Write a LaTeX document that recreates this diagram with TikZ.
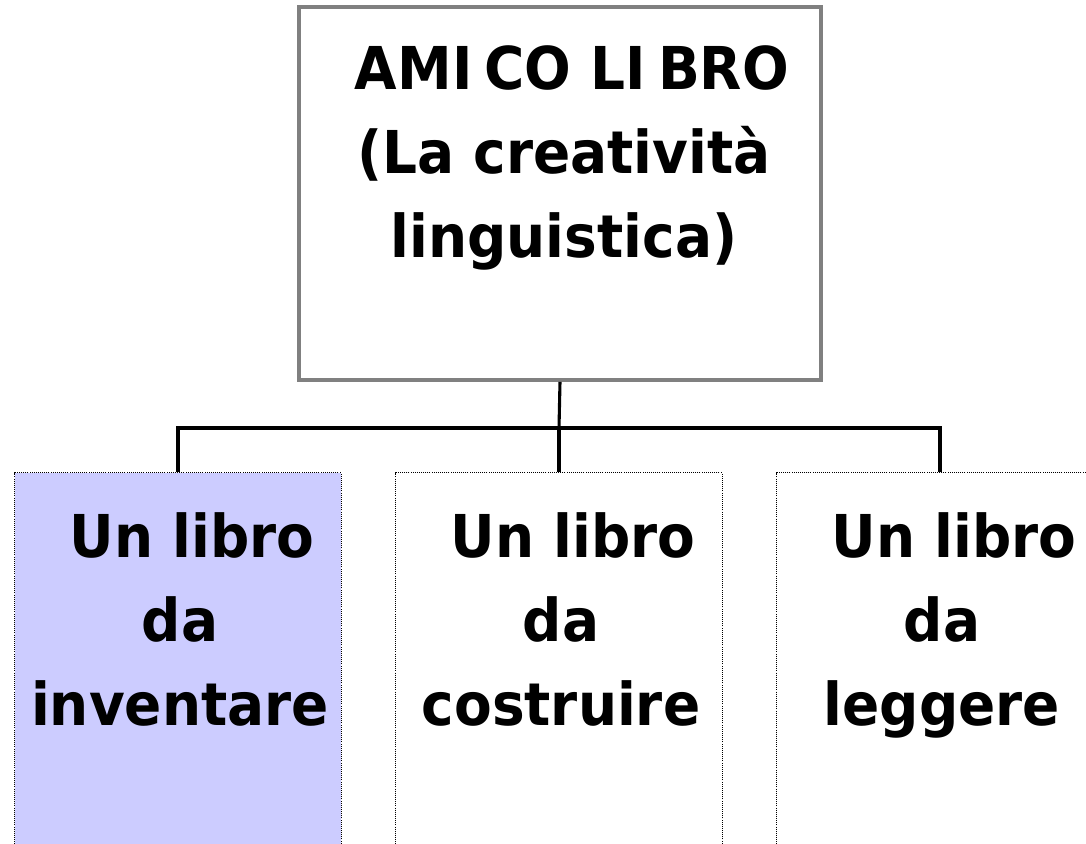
\documentclass[tikz,border=0pt]{standalone}
\usepackage{fontspec}
\setmainfont{DejaVu Sans}[FakeStretch=0.93]
\usetikzlibrary{positioning}
\definecolor{boxlilac}{HTML}{CCCCFF}
\definecolor{boxgray}{HTML}{808080}

\begin{document}
\begin{tikzpicture}[
    x=0.025cm, y=-0.025cm,
    titlebox/.style={rectangle, draw=boxgray, fill=white, line width=2.5pt,
                     minimum width=13.05cm, minimum height=9.325cm, inner sep=0pt},
    branchbox/.style={rectangle, draw=black, line width=0.7pt,
                      dash pattern=on 0.7pt off 0.8pt,
                      minimum width=8.15cm, minimum height=10.5cm, inner sep=0pt},
    bigtext/.style={align=center, inner sep=0pt, anchor=north,
                    font=\fontsize{42}{60}\selectfont\bfseries},
    link/.style={draw=black, line width=2.2pt}
  ]

  % ---- Frame ----
  \clip (0,0) rectangle (1086,843);
  \fill[white] (0,0) rectangle (1086,843);

  % ---- Title ----
  \node[titlebox] (title) at (560,193.5) {};
  \node[bigtext] (titletxt) at (564,45)
    {\hspace*{0.4cm}AMI\kern0.3cm CO LI\kern0.3cm BRO\\(La creatività\\linguistica)};

  % ---- Three branches ----
  \node[branchbox, fill=boxlilac] (invent) at (178,683) {};
  \node[branchbox] (build) at (559,683) {};
  \node[branchbox] (read) at (940,683) {};

  \node[bigtext] (inventtxt) at (180,512) {\hspace*{0.6cm}Un libro\\da\\inventare};
  \node[bigtext] (buildtxt) at (561,512) {\hspace*{0.6cm}Un libro\\da\\costruire};
  \node[bigtext] (readtxt) at (942,512) {\hspace*{0.6cm}Un libro\\da\\leggere};

  % ---- Tree lines ----
  \coordinate (fork) at (559,428);
  \draw[link] (title.south) -- (fork);
  \draw[link] (fork) -| (invent.north);
  \draw[link] (fork) -- (build.north);
  \draw[link] (fork) -| (read.north);

\end{tikzpicture}
\end{document}
